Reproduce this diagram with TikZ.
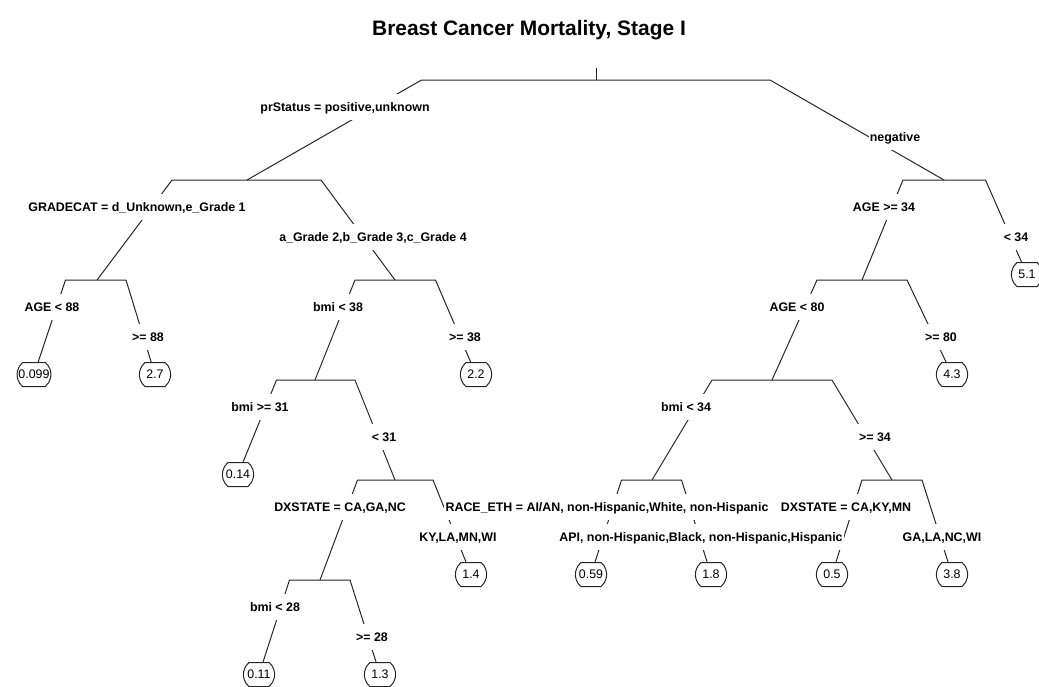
\documentclass[tikz,border=0pt]{standalone}
\usepackage{fontspec}
\setmainfont{Liberation Sans}
\usetikzlibrary{calc,shapes.misc}
\pgfdeclarelayer{background}
\pgfsetlayers{background,main}
\begin{document}
\begin{tikzpicture}[x=0.75pt,y=-0.75pt,
  branch/.style={draw=black!85, line width=0.75pt},
  tree edge/.style={to path={let \p1=(\tikztostart), \p2=(\tikztotarget) in
      -- ({(\x1+\x2)/2},{\y1}) -- (\tikztotarget)}},
  lab/.style={font=\fontsize{9.3}{11}\selectfont\bfseries, fill=white,
      inner xsep=1pt, inner ysep=6.4pt, text height=6.7pt, text depth=0pt},
  leaf/.style={font=\fontsize{9.3}{11}\selectfont, draw=black!85, line width=0.75pt,
      fill=white, rounded rectangle, rounded rectangle arc length=100,
      minimum height=18pt, inner xsep=0.6pt,
      text height=6.7pt, text depth=0pt, anchor=north},
  heading/.style={font=\fontsize{15.7}{18}\selectfont\bfseries,
      text height=11.3pt, text depth=0pt}]
\useasboundingbox (0,0) rectangle (1039,686);

\node[heading] (title) at (529,28) {Breast Cancer Mortality, Stage I};

% split points (bar levels)
\coordinate (top) at (596,68);
\coordinate (n1)  at (596,80);
\coordinate (n2)  at (247,180);
\coordinate (n3)  at (944,180);
\coordinate (n4)  at (97,280);
\coordinate (n5)  at (395,280);
\coordinate (n6)  at (315,380);
\coordinate (n7)  at (395,480);
\coordinate (n8)  at (320,580);
\coordinate (n9)  at (862,280);
\coordinate (n10) at (772,380);
\coordinate (n11) at (652,480);
\coordinate (n12) at (892,480);

% terminal nodes
\node[leaf] (t1)  at (34,362)   {0.099};
\node[leaf] (t2)  at (155,362)  {2.7};
\node[leaf] (t3)  at (476,362)  {2.2};
\node[leaf] (t4)  at (238,462)  {0.14};
\node[leaf] (t5)  at (471,562)  {1.4};
\node[leaf] (t6)  at (259,662)  {0.11};
\node[leaf] (t7)  at (380,662)  {1.3};
\node[leaf] (t8)  at (1027,262) {5.1};
\node[leaf] (t9)  at (952,362)  {4.3};
\node[leaf] (t10) at (591,562)  {0.59};
\node[leaf] (t11) at (711,562)  {1.8};
\node[leaf] (t12) at (832,562)  {0.5};
\node[leaf] (t13) at (952,562)  {3.8};

% split labels
\node[lab] (s1a) at (345,107) {prStatus = positive,unknown};
\node[lab] (s1b) at (895,137) {negative};
\node[lab] (s2a) at (137,207) {GRADECAT = d\_Unknown,e\_Grade 1};
\node[lab] (s2b) at (373,237) {a\_Grade 2,b\_Grade 3,c\_Grade 4};
\node[lab] (s4a) at (52,307)  {AGE < 88};
\node[lab] (s4b) at (148,337) {>= 88};
\node[lab] (s5a) at (338,307) {bmi < 38};
\node[lab] (s5b) at (465,337) {>= 38};
\node[lab] (s6a) at (260,407) {bmi >= 31};
\node[lab] (s6b) at (384,437) {< 31};
\node[lab] (s7a) at (340,507) {DXSTATE = CA,GA,NC};
\node[lab] (s7b) at (458,537) {KY,LA,MN,WI};
\node[lab] (s8a) at (275,607) {bmi < 28};
\node[lab] (s8b) at (372,637) {>= 28};
\node[lab] (s3a) at (884,207) {AGE >= 34};
\node[lab] (s3b) at (1016,237) {< 34};
\node[lab] (s9a) at (797,307) {AGE < 80};
\node[lab] (s9b) at (941,337) {>= 80};
\node[lab] (s10a) at (686,407) {bmi < 34};
\node[lab] (s10b) at (875,437) {>= 34};
\node[lab] (s11a) at (607,507) {RACE\_ETH = AI/AN, non-Hispanic,White, non-Hispanic};
\node[lab] (s11b) at (701,537) {API, non-Hispanic,Black, non-Hispanic,Hispanic};
\node[lab] (s12a) at (846,507) {DXSTATE = CA,KY,MN};
\node[lab] (s12b) at (942,537) {GA,LA,NC,WI};

% branches, drawn beneath the labels and terminal boxes
\begin{pgfonlayer}{background}
\draw[branch] (top) -- (n1);
\draw[branch] (n1) to[tree edge] (n2);
\draw[branch] (n1) to[tree edge] (n3);
\draw[branch] (n2) to[tree edge] (n4);
\draw[branch] (n2) to[tree edge] (n5);
\draw[branch] (n4) to[tree edge] (t1);
\draw[branch] (n4) to[tree edge] (t2);
\draw[branch] (n5) to[tree edge] (n6);
\draw[branch] (n5) to[tree edge] (t3);
\draw[branch] (n6) to[tree edge] (t4);
\draw[branch] (n6) to[tree edge] (n7);
\draw[branch] (n7) to[tree edge] (n8);
\draw[branch] (n7) to[tree edge] (t5);
\draw[branch] (n8) to[tree edge] (t6);
\draw[branch] (n8) to[tree edge] (t7);
\draw[branch] (n3) to[tree edge] (n9);
\draw[branch] (n3) to[tree edge] (t8);
\draw[branch] (n9) to[tree edge] (n10);
\draw[branch] (n9) to[tree edge] (t9);
\draw[branch] (n10) to[tree edge] (n11);
\draw[branch] (n10) to[tree edge] (n12);
\draw[branch] (n11) to[tree edge] (t10);
\draw[branch] (n11) to[tree edge] (t11);
\draw[branch] (n12) to[tree edge] (t12);
\draw[branch] (n12) to[tree edge] (t13);
\end{pgfonlayer}
\end{tikzpicture}
\end{document}
